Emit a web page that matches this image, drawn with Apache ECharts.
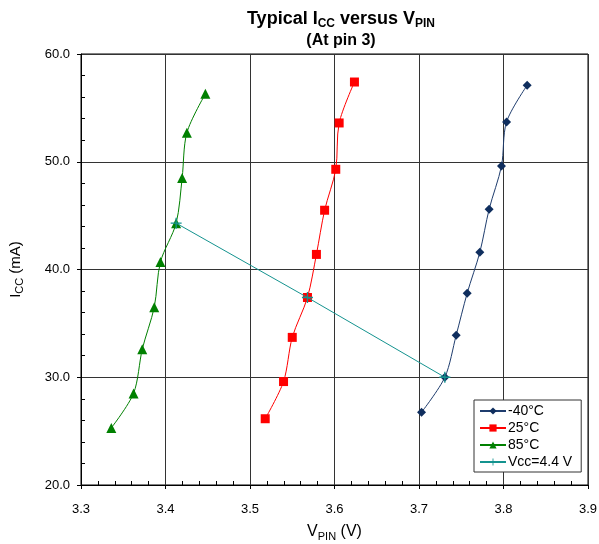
<!DOCTYPE html>
<html>
<head>
<meta charset="utf-8">
<script src="https://cdn.jsdelivr.net/npm/echarts@6/dist/echarts.min.js"></script>
<style>html,body{margin:0;padding:0;background:#fff;}#c{width:599px;height:544px;}</style>
</head>
<body>
<div id="c"></div>
<script>
// Data (V, mA)
const xM40 = [3.703, 3.7306, 3.744, 3.757, 3.772, 3.783, 3.7976, 3.8036, 3.828];
const yM40 = [26.75, 30.0, 33.9, 37.8, 41.6, 45.6, 49.6, 53.7, 57.1];
const x25 = [3.518, 3.5397, 3.550, 3.568, 3.5786, 3.5883, 3.6015, 3.6055, 3.6236];
const y25 = [26.15, 29.6, 33.7, 37.4, 41.4, 45.5, 49.3, 53.6, 57.4];
const x85 = [3.3359, 3.3622, 3.3725, 3.3867, 3.394, 3.4126, 3.4197, 3.4253, 3.4472];
const y85 = [25.3, 28.5, 32.6, 36.5, 40.7, 44.3, 48.5, 52.7, 56.3];
const xVcc = [3.4126, 3.568, 3.7306];
const yVcc = [44.3, 37.4, 30.0];
const seriesNames = ['-40°C', '25°C', '85°C', 'Vcc=4.4 V'];

const zip = (a, b) => a.map((v, i) => [v, b[i]]);
const FONT = 'Liberation Sans, Arial, sans-serif';
const cross = 'path://M4.4,0h1.2v4.4h4.4v1.2h-4.4v4.4h-1.2v-4.4h-4.4v-1.2h4.4z';

const chart = echarts.init(document.getElementById('c'));
chart.setOption({
  animation: false,
  textStyle: { fontFamily: FONT, color: '#000' },
  title: {
    left: 336, top: 3, textAlign: 'center',
    text: '{a|Typical I}{s|CC}{a| versus V}{s|PIN}\n{b|(At pin 3)}',
    textStyle: {
      rich: {
        a: { fontSize: 18, fontWeight: 'bold', fontFamily: FONT, color: '#000', verticalAlign: 'bottom', lineHeight: 22, padding: [0, 0, 2, 0] },
        s: { fontSize: 12, fontWeight: 'bold', fontFamily: FONT, color: '#000', verticalAlign: 'bottom', lineHeight: 22 },
        b: { fontSize: 16, fontWeight: 'bold', fontFamily: FONT, color: '#000', lineHeight: 22, align: 'center' }
      }
    }
  },
  grid: { left: 81, right: 11, top: 54, bottom: 59, show: true, borderColor: '#000', borderWidth: 1, backgroundColor: '#fff', containLabel: false, outerBoundsMode: 'none' },
  legend: {
    orient: 'vertical', left: 474, top: 400,
    data: seriesNames,
    itemWidth: 26, itemHeight: 9, itemGap: 3,
    borderColor: '#333', borderWidth: 1, padding: [4, 9, 3, 5],
    backgroundColor: '#fff',
    textStyle: { fontSize: 14, fontFamily: FONT, color: '#000', padding: [0, 0, 0, -3] }
  },
  xAxis: {
    type: 'value', min: 3.3, max: 3.9, interval: 0.1,
    name: 'V{s|PIN} (V)', nameLocation: 'middle', nameGap: 39,
    nameTextStyle: { fontSize: 16, fontFamily: FONT, color: '#000', rich: { s: { fontSize: 11, fontFamily: FONT, color: '#000', verticalAlign: 'bottom', padding: [0,0,-2,0] } } },
    axisLine: { show: true, lineStyle: { color: '#000', width: 1 } },
    axisTick: { show: true, length: 4, lineStyle: { color: '#000' } },
    minorTick: { show: true, splitNumber: 5, length: -4, lineStyle: { color: '#000' } },
    axisLabel: { fontSize: 13, color: '#000', fontFamily: FONT, margin: 18, formatter: v => v.toFixed(1) },
    splitLine: { show: true, lineStyle: { color: '#333', width: 1 } }
  },
  yAxis: {
    type: 'value', min: 20, max: 60, interval: 10,
    name: 'I{s|CC} (mA)', nameLocation: 'middle', nameGap: 58,
    nameTextStyle: { fontSize: 15, fontFamily: FONT, color: '#000', rich: { s: { fontSize: 11, fontFamily: FONT, color: '#000', verticalAlign: 'bottom', padding: [0,0,-2,0] } } },
    axisLine: { show: true, lineStyle: { color: '#000', width: 1 } },
    axisTick: { show: true, length: 4, lineStyle: { color: '#000' } },
    minorTick: { show: true, splitNumber: 5, length: -4, lineStyle: { color: '#000' } },
    axisLabel: { fontSize: 13, color: '#000', fontFamily: FONT, margin: 11, formatter: v => v.toFixed(1) },
    splitLine: { show: true, lineStyle: { color: '#333', width: 1 } }
  },
  series: [
    { name: seriesNames[0], type: 'line', data: zip(xM40, yM40), smooth: 0.3, symbol: 'diamond', symbolSize: 9,
      lineStyle: { color: '#1f3d6e', width: 1 }, itemStyle: { color: '#0f2e5e' } },
    { name: seriesNames[1], type: 'line', data: zip(x25, y25), smooth: 0.3, symbol: 'rect', symbolSize: 9,
      lineStyle: { color: '#ff0000', width: 1 }, itemStyle: { color: '#ff0000' } },
    { name: seriesNames[2], type: 'line', data: zip(x85, y85), smooth: 0.3, symbol: 'triangle', symbolSize: 10,
      lineStyle: { color: '#008000', width: 1 }, itemStyle: { color: '#008000' } },
    { name: seriesNames[3], type: 'line', data: zip(xVcc, yVcc), smooth: false, symbol: cross, symbolSize: 11, z: 5,
      lineStyle: { color: '#14938f', width: 1 }, itemStyle: { color: '#14938f' } }
  ]
});
</script>
</body>
</html>
